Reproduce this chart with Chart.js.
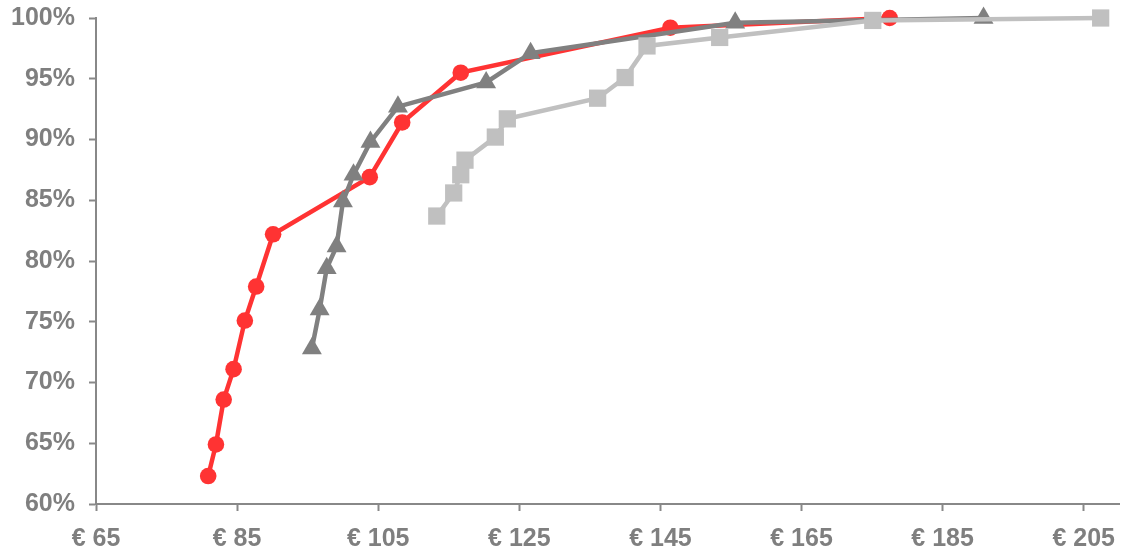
<!DOCTYPE html>
<html>
<head>
<meta charset="utf-8">
<style>
  html, body { margin: 0; padding: 0; background: #ffffff; }
  #wrap { width: 1122px; height: 548px; }
</style>
<script src="https://cdn.jsdelivr.net/npm/chart.js@4/dist/chart.umd.min.js"></script>
</head>
<body>
<div id="wrap"><canvas id="chart" width="1122" height="548"></canvas></div>
<script>
// Price (EUR) and cumulative share (%) for each of the three series
const redPrice   = [80.9, 82.0, 83.1, 84.5, 86.1, 87.7, 90.1, 103.8, 108.4, 116.7, 146.4, 177.5];
const redShare   = [62.3, 64.9, 68.6, 71.1, 75.1, 77.9, 82.2, 86.9, 91.4, 95.5, 99.2, 100.0];

const darkPrice  = [95.6, 96.7, 97.7, 99.1, 100.0, 101.5, 103.9, 107.8, 120.3, 126.6, 155.6, 190.8];
const darkShare  = [72.8, 76.0, 79.4, 81.2, 84.9, 87.1, 89.8, 92.7, 94.7, 97.1, 99.6, 100.0];

const lightPrice = [113.3, 115.7, 116.7, 117.3, 121.6, 123.3, 136.1, 140.0, 143.1, 153.4, 175.1, 207.4];
const lightShare = [83.7, 85.6, 87.1, 88.3, 90.2, 91.7, 93.4, 95.1, 97.7, 98.4, 99.8, 100.0];

// Axis ticks
const xTickValues = [65, 85, 105, 125, 145, 165, 185, 205];
const yTickValues = [60, 65, 70, 75, 80, 85, 90, 95, 100];

const toPoints = (xs, ys) => xs.map((x, i) => ({ x: x, y: ys[i] }));

const axisGray = '#888888';
const labelGray = '#7f7f7f';
const tickFont = { family: '"Liberation Sans", Arial, sans-serif', size: 25, weight: 'bold' };

new Chart(document.getElementById('chart'), {
  type: 'scatter',
  data: {
    datasets: [
      {
        data: toPoints(redPrice, redShare),
        showLine: true,
        clip: false,
        borderColor: '#ff3333',
        backgroundColor: '#ff3333',
        borderWidth: 4.5,
        pointStyle: 'circle',
        pointRadius: 8.3,
        pointBorderWidth: 0,
        order: 3
      },
      {
        data: toPoints(darkPrice, darkShare),
        showLine: true,
        clip: false,
        borderColor: '#808080',
        backgroundColor: '#808080',
        borderWidth: 4.5,
        pointStyle: 'triangle',
        pointRadius: 11.5,
        pointBorderWidth: 0,
        order: 2
      },
      {
        data: toPoints(lightPrice, lightShare),
        showLine: true,
        clip: false,
        borderColor: '#c0c0c0',
        backgroundColor: '#c0c0c0',
        borderWidth: 4.5,
        pointStyle: 'rect',
        pointRadius: 12.2,
        pointBorderWidth: 0,
        order: 1
      }
    ]
  },
  options: {
    responsive: false,
    animation: false,
    layout: { autoPadding: false, padding: { top: 18, right: 3, left: 0, bottom: 0 } },
    plugins: {
      legend: { display: false },
      tooltip: { enabled: false }
    },
    scales: {
      x: {
        type: 'linear',
        min: 65,
        max: 210,
        afterBuildTicks: (axis) => { axis.ticks = xTickValues.map(v => ({ value: v })); },
        afterFit: (axis) => {
          axis.height = 44;
          axis.paddingLeft = 0;
          axis.paddingRight = 0;
        },
        grid: { drawOnChartArea: false, drawTicks: true, tickLength: 7, tickColor: axisGray, tickWidth: 2 },
        border: { display: true, color: axisGray, width: 2 },
        ticks: {
          color: labelGray,
          font: tickFont,
          padding: 13,
          maxRotation: 0,
          autoSkip: false,
          callback: (v) => '€ ' + v
        }
      },
      y: {
        type: 'linear',
        min: 60,
        max: 100,
        afterBuildTicks: (axis) => { axis.ticks = yTickValues.map(v => ({ value: v })); },
        afterFit: (axis) => {
          axis.width = 96;
          axis.paddingTop = 0;
          axis.paddingBottom = 0;
        },
        grid: { drawOnChartArea: false, drawTicks: true, tickLength: 7, tickColor: axisGray, tickWidth: 2 },
        border: { display: true, color: axisGray, width: 2 },
        ticks: {
          color: labelGray,
          font: tickFont,
          padding: 14,
          autoSkip: false,
          callback: (v) => v + '%'
        }
      }
    }
  }
});
</script>
</body>
</html>
